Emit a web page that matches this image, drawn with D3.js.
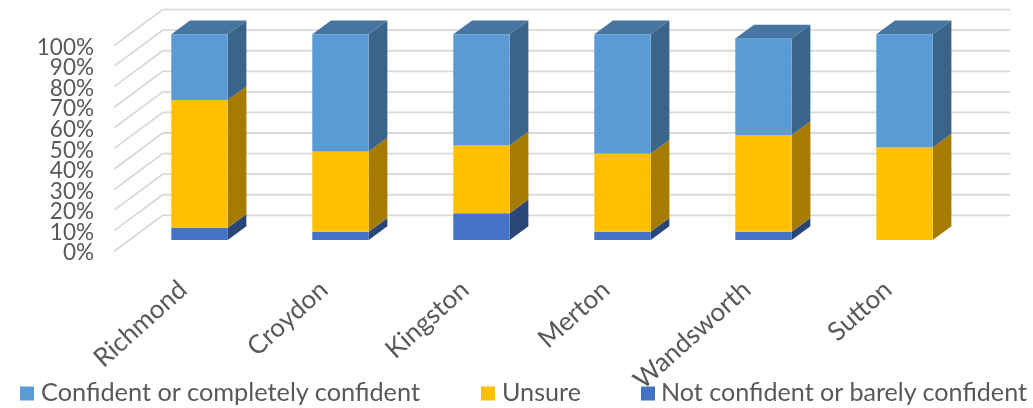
<!DOCTYPE html>
<html><head><meta charset="utf-8">
<script src="https://cdn.jsdelivr.net/npm/d3@7/dist/d3.min.js"></script>
<style>
html,body{margin:0;padding:0;background:#fff;overflow:hidden}
svg{display:block;filter:blur(0.35px)}
text{font-family:Lato,sans-serif;fill:#595959}
</style></head><body>
<svg id="c" width="1033" height="408"></svg>
<script>
const categories=["Richmond","Croydon","Kingston","Merton","Wandsworth","Sutton"];
const notConfident=[6,4,13,4,4,0];
const unsure=[62,39,33,38,47,45];
const confident=[32,57,54,58,47,55];
const seriesNames=["Confident or completely confident","Unsure","Not confident or barely confident"];
const tickValues=[0,10,20,30,40,50,60,70,80,90,100];

const svg=d3.select("#c");
const y=d3.scaleLinear().domain([0,100]).range([240,34.3]);
const x=d3.scaleBand().domain(categories).range([129,975]).paddingInner(0.6).paddingOuter(0.3);
const dx=18.7,dy=13.7;

// back wall and side wall gridlines
const wallLeft=114.3,wallRight=162.7,wallEnd=1010,leftShift=11.2,backShift=-24.7;
const grid=svg.append("g").attr("fill","none").attr("stroke","#d9d9d9").attr("stroke-width",1.8);
tickValues.forEach(v=>{
  grid.append("path").attr("d",d3.line()([[wallLeft,y(v)+leftShift],[wallRight,y(v)+backShift],[wallEnd,y(v)+backShift]]));
});

// stacked 3D bars
const rows=categories.map((c,i)=>({c,notConfident:notConfident[i],unsure:unsure[i],confident:confident[i]}));
const stack=d3.stack().keys(["notConfident","unsure","confident"])(rows);
const face={
  notConfident:{front:"#4472c4",side:"#2a4679",top:"#335a9c"},
  unsure:{front:"#ffc000",side:"#a67c00",top:"#bf9000"},
  confident:{front:"#5b9bd5",side:"#3a648a",top:"#4575a0"}
};
const poly=pts=>d3.line()(pts)+"Z";
const bars=svg.append("g");
stack.forEach(s=>{
  const col=face[s.key];
  s.forEach(d=>{
    if(d[1]-d[0]<=0)return;
    const x0=x(d.data.c),x1=x0+x.bandwidth(),yb=y(d[0]),yt=y(d[1]);
    bars.append("path").attr("fill",col.side).attr("d",poly([[x1,yb],[x1+dx,yb-dy],[x1+dx,yt-dy],[x1,yt]]));
    bars.append("rect").attr("x",x0).attr("y",yt).attr("width",x.bandwidth()).attr("height",yb-yt).attr("fill",col.front);
    if(s.key==="confident")
      bars.append("path").attr("fill",col.top).attr("d",poly([[x0,yt],[x0+dx,yt-dy],[x1+dx,yt-dy],[x1,yt]]));
  });
});

// value axis
const yAxis=svg.append("g").attr("transform",`translate(94,${leftShift+1.5})`)
  .call(d3.axisLeft(y).tickValues(tickValues).tickFormat(v=>v+"%").tickSize(0).tickPadding(0));
yAxis.select(".domain").remove();
yAxis.selectAll("text").attr("font-size",22.5).style("font-family","Lato,sans-serif").attr("fill","#595959");

// category axis
const xAxis=svg.append("g").attr("transform","translate(0,240)")
  .call(d3.axisBottom(x).tickSize(0).tickPadding(0));
xAxis.select(".domain").remove();
xAxis.selectAll("text").attr("font-size",26).style("font-family","Lato,sans-serif").attr("fill","#595959")
  .attr("text-anchor","end").attr("dy",0).attr("y",0)
  .attr("transform","translate(-11,52) rotate(-42)");

// legend
const legendColors=["#5b9bd5","#ffc000","#4472c4"];
const swatchX=[20,481,641],textX=[41,502,661],textW=[379,79,366];
const leg=svg.append("g");
seriesNames.forEach((n,i)=>{
  leg.append("rect").attr("x",swatchX[i]).attr("y",386.5).attr("width",14).attr("height",14).attr("fill",legendColors[i]);
  leg.append("text").attr("x",textX[i]).attr("y",400.5).attr("font-size",25)
    .attr("textLength",textW[i]).attr("lengthAdjust","spacingAndGlyphs").text(n);
});
</script>
</body></html>
